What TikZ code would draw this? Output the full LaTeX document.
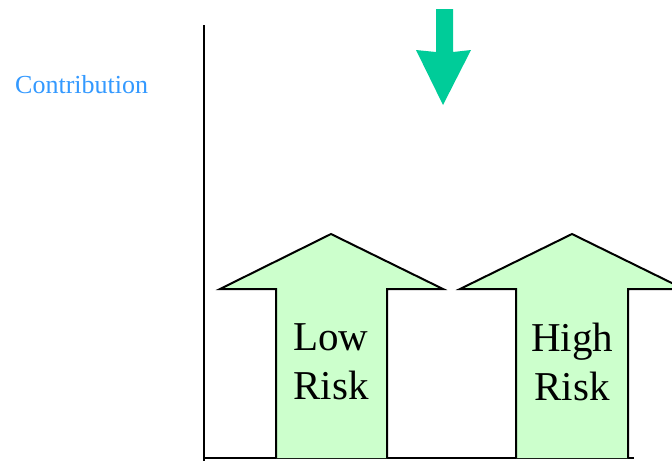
\documentclass[tikz,border=0pt]{standalone}
\usepackage{fontspec}
\setmainfont{Liberation Serif}
\definecolor{shaftfill}{RGB}{204,255,204}
\definecolor{dropgreen}{RGB}{0,204,153}
\definecolor{labelblue}{RGB}{51,153,255}
\tikzset{
  uparrow/.style={draw=black, fill=shaftfill, line width=2pt, line join=miter},
  axisline/.style={draw=black, line width=2.2pt},
  risklabel/.style={font=\fontsize{41}{49}\selectfont, align=center, inner sep=0pt}
}
\begin{document}
\begin{tikzpicture}[x=1pt,y=-1pt]
  \useasboundingbox (0,0) rectangle (672,461);
  \clip (0,0) rectangle (672,461);
  % axis label
  \node[text=labelblue, font=\fontsize{26}{30}\selectfont, anchor=west, inner sep=0pt] (ylabel) at (15,85) {Contribution};
  % axes
  \coordinate (ytop) at (204,25);
  \coordinate (ybottom) at (204,461);
  \coordinate (xstart) at (203,458);
  \coordinate (xend) at (634,458);
  \draw[axisline] (ytop) -- (ybottom);
  \draw[axisline] (xstart) -- (xend);
  % downward arrow
  \fill[dropgreen] (436,9) -- (453,9) -- (453,52) -- (471,50) -- (443,105) -- (416,50) -- (436,52) -- cycle;
  % low-risk arrow
  \draw[uparrow] (276,458) -- (276,289) -- (220,289) -- (331,234) -- (443,289) -- (387,289) -- (387,458);
  \node[risklabel] (low) at (331,362) {Low\\Risk};
  % high-risk arrow
  \draw[uparrow] (516,458) -- (516,289) -- (460,289) -- (572,234) -- (684,289) -- (628,289) -- (628,458);
  \node[risklabel] (high) at (572,362) {High\\Risk};
\end{tikzpicture}
\end{document}
